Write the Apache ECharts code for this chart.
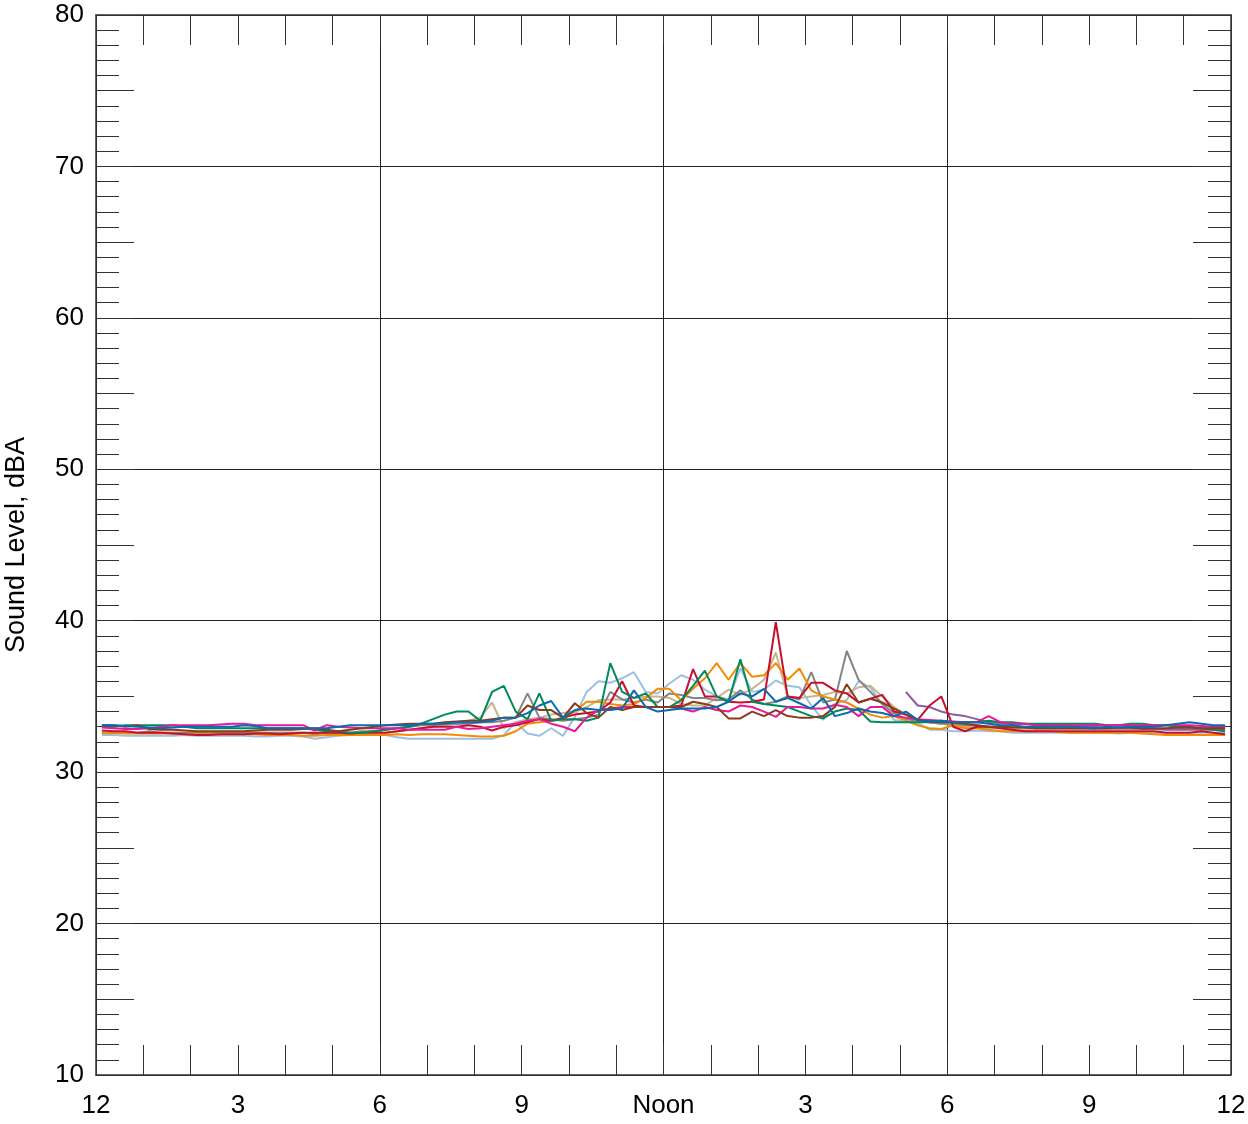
<!DOCTYPE html>
<html>
<head>
<meta charset="utf-8">
<script src="https://cdn.jsdelivr.net/npm/echarts@6/dist/echarts.min.js"></script>
<style>
html,body{margin:0;padding:0;background:#fff;}
#chart{width:1248px;height:1124px;}
</style>
</head>
<body>
<div id="chart"></div>
<script>
// Tick labels
const xTickLabels = {0:'12',3:'3',6:'6',9:'9',12:'Noon',15:'3',18:'6',21:'9',24:'12'};
const yName = 'Sound Level, dBA';

// 15-minute samples, 96 per series (first at 00:07:30)
const green = [
33.0,33.0,33.1,33.1, 33.1,33.1,33.1,33.0, 32.9,32.9,32.9,32.9, 32.9,32.9,32.9,32.9,
32.9,32.9,32.8,32.7, 32.7,32.6,32.6,32.7, 32.8,32.9,33.0,33.2, 33.5,33.8,34.0,34.0,
33.4,35.3,35.7,34.0, 33.5,35.2,33.4,33.5, 33.5,33.4,33.6,37.2, 35.3,34.9,35.2,34.3,
34.3,34.75,35.7,36.7, 35.0,34.65,37.45,34.65, 34.5,34.4,34.3,34.0, 33.7,33.55,34.0,34.2,
34.1,33.35,33.3,33.3, 33.3,33.3,33.3,33.3, 33.3,33.3,33.3,33.4, 33.3,33.3,33.2,33.2,
33.2,33.2,33.2,33.2, 33.2,33.1,33.1,33.2, 33.2,33.1,33.1,33.0, 33.0,32.9,32.8,32.7];

const red = [
32.75,32.7,32.7,32.6, 32.6,32.6,32.55,32.5, 32.45,32.45,32.5,32.5, 32.5,32.55,32.55,32.5,
32.55,32.6,32.6,32.6, 32.6,32.55,32.6,32.6, 32.6,32.7,32.8,32.9, 33.0,33.0,33.0,33.1,
33.0,32.75,33.0,33.1, 33.3,33.5,33.4,33.6, 33.8,33.9,34.0,34.6, 36.0,34.4,34.3,34.3,
34.3,34.4,36.8,35.0, 35.0,34.65,34.6,34.65, 34.8,39.9,35.0,34.9, 35.9,35.9,35.4,35.2,
34.6,34.85,35.1,34.0, 33.8,33.45,34.4,35.0, 33.0,32.7,33.0,33.0, 32.9,32.8,32.7,32.7,
32.7,32.7,32.7,32.7, 32.7,32.7,32.7,32.7, 32.7,32.7,32.6,32.6, 32.6,32.7,32.6,32.5];

const gray = [
32.6,32.6,32.6,32.6, 32.7,32.6,32.6,32.6, 32.6,32.6,32.65,32.6, 32.6,32.6,32.6,32.6,
32.6,32.6,32.5,32.6, 32.6,32.6,32.7,32.7, 32.8,32.9,33.0,33.1, 33.1,33.2,33.2,33.2,
33.3,33.3,33.4,33.6, 35.2,33.6,33.5,33.4, 33.5,33.6,33.8,35.3, 34.8,34.6,34.8,34.6,
35.2,35.1,34.9,34.9, 34.75,34.8,35.4,34.8, 34.5,34.65,35.0,34.8, 36.6,34.6,34.8,38.0,
36.1,35.3,34.5,33.9, 33.5,33.4,33.3,33.2, 33.2,33.1,33.1,33.0, 33.0,33.0,32.95,32.9,
32.9,32.9,32.9,32.9, 32.85,32.9,32.9,32.9, 32.9,32.85,32.85,32.9, 32.9,32.9,32.9,32.9];

const lightBlue = [
32.45,32.45,32.4,32.4, 32.4,32.4,32.4,32.45, 32.4,32.4,32.4,32.4, 32.4,32.35,32.35,32.4,
32.4,32.35,32.2,32.3, 32.4,32.45,32.45,32.45, 32.45,32.3,32.2,32.2, 32.2,32.2,32.2,32.2,
32.2,32.2,32.45,33.3, 32.55,32.4,32.9,32.4, 33.65,35.3,36.0,35.9, 36.2,36.6,35.3,35.2,
35.85,36.4,36.1,35.45, 35.0,34.8,36.85,35.3, 35.45,36.05,35.7,35.6, 34.4,33.45,34.5,34.77,
36.0,35.6,34.5,33.45, 33.35,33.25,32.8,32.8, 32.7,32.7,32.75,32.7, 32.7,32.6,32.6,32.6,
32.6,32.6,32.6,32.6, 32.6,32.6,32.55,32.6, 32.6,32.6,32.6,32.6, 32.6,32.6,32.6,32.6];

const orange = [
32.6,32.6,32.55,32.55, 32.55,32.55,32.55,32.5, 32.5,32.5,32.5,32.5, 32.5,32.5,32.45,32.45,
32.45,32.4,32.4,32.45, 32.45,32.45,32.45,32.45, 32.45,32.5,32.45,32.5, 32.5,32.5,32.45,32.4,
32.35,32.35,32.4,32.7, 33.2,33.3,33.4,33.5, 34.0,34.65,34.65,34.5, 34.4,34.5,34.9,35.5,
35.5,34.75,35.5,36.2, 37.2,36.1,37.2,36.3, 36.4,37.2,36.1,36.85, 35.4,35.0,34.8,34.6,
34.2,33.8,33.6,33.7, 33.4,33.1,32.9,32.85, 33.1,32.9,32.9,32.8, 32.7,32.7,32.7,32.7,
32.7,32.65,32.6,32.6, 32.6,32.6,32.6,32.6, 32.55,32.5,32.45,32.45, 32.45,32.45,32.45,32.45];

const tan = [
32.55,32.55,32.6,32.6, 32.6,32.6,32.6,32.6, 32.6,32.6,32.6,32.6, 32.6,32.6,32.6,32.6,
32.6,32.6,32.55,32.6, 32.6,32.6,32.6,32.6, 32.6,32.7,32.8,32.9, 33.0,33.1,33.2,33.4,
33.6,34.6,32.9,33.3, 33.5,33.6,33.8,33.9, 34.0,34.3,34.75,34.8, 34.8,34.9,35.0,35.0,
34.9,34.5,34.4,34.4, 34.9,35.45,35.1,35.5, 36.1,37.9,35.0,34.9, 35.0,35.1,35.3,35.2,
35.6,35.7,35.0,34.3, 33.8,33.5,33.3,33.2, 33.1,33.0,33.0,32.9, 32.9,32.85,32.85,32.85,
32.85,32.85,32.85,32.85, 32.85,32.85,32.85,32.85, 32.85,32.85,32.85,32.85, 32.85,32.85,32.85,32.85];

const blue = [
33.1,33.1,33.05,33.0, 32.95,32.9,32.95,33.0, 33.0,33.0,33.0,33.0, 33.1,33.05,32.9,32.9,
32.9,32.9,32.9,32.9, 33.0,33.1,33.1,33.1, 33.1,33.1,33.1,33.2, 33.2,33.2,33.3,33.3,
33.3,33.4,33.6,33.6, 33.9,34.4,34.7,33.6, 34.1,34.2,34.1,34.1, 34.2,35.4,34.3,34.0,
34.1,34.2,34.2,34.2, 34.3,34.65,35.2,35.0, 35.5,34.65,34.9,34.55, 34.2,34.9,33.7,33.9,
34.2,34.0,33.9,33.7, 34.0,33.45,33.35,33.4, 33.3,33.3,33.3,33.2, 33.1,33.1,33.0,33.0,
33.0,33.0,33.0,32.95, 32.9,33.0,32.95,33.0, 33.0,33.0,33.1,33.2, 33.3,33.2,33.1,33.1];

const magenta = [
32.95,32.9,32.85,32.85, 32.9,33.0,33.1,33.1, 33.1,33.1,33.15,33.2, 33.2,33.1,33.1,33.1,
33.1,33.1,32.75,33.1, 33.0,32.95,32.9,32.9, 32.9,32.9,32.8,32.8, 32.8,32.8,33.0,32.85,
32.9,33.0,33.1,33.2, 33.4,33.5,33.2,33.0, 32.7,33.6,34.1,34.2, 34.3,34.3,34.3,34.3,
34.3,34.2,34.0,34.3, 34.1,34.0,34.4,34.3, 34.0,33.65,34.3,34.3, 34.2,34.2,34.45,34.3,
33.7,34.3,34.3,33.7, 33.6,33.5,33.45,33.4, 33.35,33.3,33.3,33.7, 33.3,33.2,33.2,33.1,
33.1,33.1,33.1,33.1, 33.1,33.1,33.1,33.1, 33.1,33.1,33.1,33.1, 33.1,33.05,33.0,33.0];

const brown = [
33.1,33.1,33.0,33.1, 32.85,32.8,32.8,32.75, 32.7,32.7,32.7,32.7, 32.7,32.75,32.8,32.8,
32.8,32.85,32.9,32.8, 32.7,32.8,32.9,33.0, 33.1,33.15,33.2,33.2, 33.2,33.3,33.35,33.4,
33.4,33.5,33.6,33.6, 34.4,34.1,34.1,33.6, 34.55,33.9,33.6,34.3, 34.1,34.3,34.3,34.3,
34.3,34.3,34.65,34.5, 34.3,33.55,33.55,34.0, 33.7,34.1,33.7,33.6, 33.6,33.7,34.3,35.8,
34.6,34.85,34.6,34.2, 33.8,33.45,33.35,33.35, 33.3,33.2,33.1,33.0, 33.0,32.95,32.95,32.9,
32.9,32.9,32.9,32.9, 32.9,32.9,32.95,32.95, 32.9,32.9,32.9,32.95, 32.95,32.9,32.9,32.9];

const purple = [
null,null,null,null, null,null,null,null, null,null,null,null, null,null,null,null,
null,null,null,null, null,null,null,null, null,null,null,null, null,null,null,null,
null,null,null,null, null,null,null,null, null,null,null,null, null,null,null,null,
null,null,null,null, null,null,null,null, null,null,null,null, null,null,null,null,
null,null,null,null, 35.3,34.4,34.3,34.0, 33.8,33.7,33.5,33.3, 33.25,33.2,33.2,33.15,
33.1,33.1,33.1,33.0, 33.0,32.9,32.9,32.9, 32.85,32.85,32.8,32.8, 32.8,32.8,32.8,32.8];

const seriesDefs = [
  {name:'Light blue', data: lightBlue, color:'#9DC0E2'},
  {name:'Tan', data: tan, color:'#C9B58A'},
  {name:'Gray', data: gray, color:'#858585'},
  {name:'Orange', data: orange, color:'#F28C00'},
  {name:'Purple', data: purple, color:'#8E5A9E'},
  {name:'Red', data: red, color:'#C8102E'},
  {name:'Green', data: green, color:'#00895A'},
  {name:'Magenta', data: magenta, color:'#E8199B'},
  {name:'Brown', data: brown, color:'#8C3A1A'},
  {name:'Blue', data: blue, color:'#0B6BB0'}
];

// sample times in hours (15-minute bins, centred)
const times = [];
for (let i = 0; i < 96; i++) times.push(0.125 + 0.25 * i);

const FONT = 'Liberation Sans, Arial, sans-serif';
const AX = '#333';

const chart = echarts.init(document.getElementById('chart'), null, {renderer:'canvas'});

const G = {left:96, right:17, top:15, bottom:49, outerBoundsMode:'none', containLabel:false};
const NG = 5;
const grids = [];
for (let g = 0; g < NG; g++) grids.push(Object.assign({}, G));

function hiddenParts(){ return {axisLine:{show:false, onZero:false}, axisTick:{show:false}, axisLabel:{show:false}, splitLine:{show:false}}; }
function xa(gi, extra){ return Object.assign({type:'value', min:0, max:24, gridIndex:gi, offset:0}, hiddenParts(), extra); }
function ya(gi, extra){ return Object.assign({type:'value', min:10, max:80, gridIndex:gi, offset:0}, hiddenParts(), extra); }
const boxLine = {show:true, onZero:false, lineStyle:{color:AX, width:1.5}};

const option = {
  animation:false,
  backgroundColor:'#fff',
  grid: grids,
  xAxis: [
    xa(0, { interval:3, position:'bottom', axisLine:boxLine,
      axisLabel:{show:true, color:'#000', fontSize:26, fontFamily:FONT, margin:18,
        formatter: v => (xTickLabels[v] !== undefined ? xTickLabels[v] : '')} }),
    xa(1, { interval:6, position:'bottom',
      splitLine:{show:true, lineStyle:{color:'#222', width:1}} }),
    xa(2, { interval:1, position:'bottom',
      axisTick:{show:true, inside:true, length:30, lineStyle:{color:AX, width:1}} }),
    xa(3, { interval:1, position:'top', axisLine:boxLine,
      axisTick:{show:true, inside:true, length:30, lineStyle:{color:AX, width:1}} }),
    xa(4, { interval:6 })
  ],
  yAxis: [
    ya(0, { interval:10, position:'left',
      name: yName, nameLocation:'middle', nameGap:66, nameRotate:90,
      nameTextStyle:{color:'#000', fontSize:27, fontFamily:FONT},
      axisLine:boxLine,
      splitLine:{show:true, lineStyle:{color:'#222', width:1}},
      axisLabel:{show:true, color:'#000', fontSize:26, fontFamily:FONT, margin:12} }),
    ya(1, { interval:1, position:'left',
      axisTick:{show:true, inside:true, length:23, lineStyle:{color:AX, width:1}} }),
    ya(2, { interval:5, position:'left',
      axisTick:{show:true, inside:true, length:38, lineStyle:{color:AX, width:1}} }),
    ya(3, { interval:1, position:'right', axisLine:boxLine,
      axisTick:{show:true, inside:true, length:23, lineStyle:{color:AX, width:1}} }),
    ya(4, { interval:5, position:'right',
      axisTick:{show:true, inside:true, length:38, lineStyle:{color:AX, width:1}} })
  ],
  series: seriesDefs.map(s => ({
    name: s.name,
    type:'line',
    xAxisIndex:0, yAxisIndex:0,
    showSymbol:false, symbol:'none',
    connectNulls:false,
    data: times.map((t,i) => [t, s.data[i]]),
    lineStyle:{color:s.color, width:2},
    itemStyle:{color:s.color}
  }))
};
chart.setOption(option);
</script>
</body>
</html>
